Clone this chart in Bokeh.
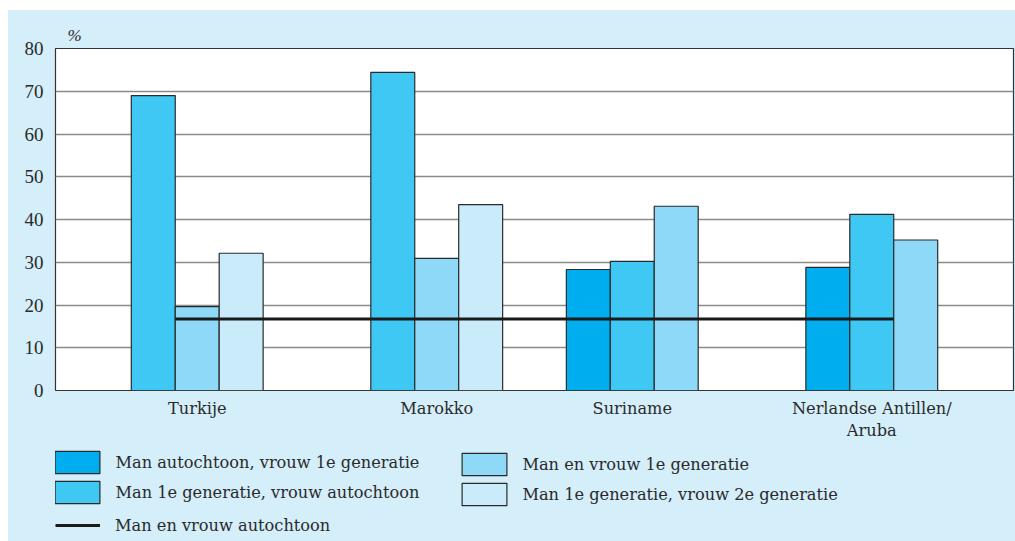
from bokeh.plotting import figure
from bokeh.layouts import column
from bokeh.models import Range1d, Legend, LegendItem, FixedTicker, ColumnDataSource
from bokeh.embed import file_html
from bokeh.resources import INLINE

# ---- data ----
groups = ["Turkije", "Marokko", "Suriname", "Nerlandse Antillen/\nAruba"]
series_names = [
    "Man autochtoon, vrouw 1e generatie",
    "Man 1e generatie, vrouw autochtoon",
    "Man en vrouw 1e generatie",
    "Man 1e generatie, vrouw 2e generatie",
]
man_auto_vrouw_1e = [None, None, 28.3, 28.8]
man_1e_vrouw_auto = [69.0, 74.4, 30.2, 41.2]
man_vrouw_1e = [19.6, 30.9, 43.1, 35.2]
man_1e_vrouw_2e = [32.1, 43.5, None, None]
line_name = "Man en vrouw autochtoon"
man_vrouw_auto = [16.7, 16.7, 16.7, 16.7]
y_ticks = [0, 10, 20, 30, 40, 50, 60, 70, 80]

series_values = [man_auto_vrouw_1e, man_1e_vrouw_auto, man_vrouw_1e, man_1e_vrouw_2e]
colors = ["#00aeef", "#40c8f4", "#8ed8f8", "#c9ebfa"]
BG = "#d4eefa"
TXT = "#2a2a2a"
NUM_FONT = "Liberation Serif"
TXT_FONT = "DejaVu Serif"
TXT_FS = "16.2px"

W = 0.1835  # slot width in group units

p = figure(width=1007, height=435, output_backend="svg", toolbar_location=None,
           x_range=Range1d(0, 4), y_range=Range1d(0, 80),
           min_border_left=47, min_border_right=2, min_border_top=38, min_border_bottom=55)
p.background_fill_color = "white"
p.border_fill_color = BG
p.outline_line_color = "#333333"
p.outline_line_width = 1.2

bar_renderers = []
present = [[] for _ in groups]
for k, (name, vals, col) in enumerate(zip(series_names, series_values, colors)):
    xs, tops = [], []
    for g, v in enumerate(vals):
        if v is None:
            continue
        x = g + 0.5 + (k - 1.5) * W
        xs.append(x)
        tops.append(v)
        present[g].append(x)
    src = ColumnDataSource(dict(x=xs, top=tops))
    r = p.vbar(x="x", top="top", width=W, bottom=0, source=src,
               fill_color=col, line_color=TXT, line_width=1.2)
    bar_renderers.append(r)

lsrc = ColumnDataSource(dict(x=[g + 0.5 for g in range(len(groups))], y=man_vrouw_auto))
rline = p.line(x="x", y="y", source=lsrc, line_color="#1a1a1a", line_width=3)

# axes
tick_pos = [sum(xs) / len(xs) for xs in present]
p.xaxis.ticker = FixedTicker(ticks=tick_pos)
p.xaxis.major_label_overrides = {t: n for t, n in zip(tick_pos, groups)}
p.yaxis.ticker = FixedTicker(ticks=y_ticks)
for ax in (p.xaxis[0], p.yaxis[0]):
    ax.axis_line_color = None
    ax.major_tick_line_color = None
    ax.minor_tick_line_color = None
    ax.major_tick_out = 0
    ax.major_tick_in = 0
    ax.minor_tick_out = 0
    ax.minor_tick_in = 0
    ax.major_label_text_color = TXT
p.yaxis.major_label_text_font = NUM_FONT
p.yaxis.major_label_text_font_size = "19px"
p.xaxis.major_label_text_font = TXT_FONT
p.xaxis.major_label_text_font_size = TXT_FS
p.yaxis.major_label_standoff = 12
p.xaxis.major_label_standoff = 8
p.xgrid.visible = False
p.ygrid.grid_line_color = "#8a8a8a"
p.ygrid.grid_line_width = 1.5

p.title.text = "%"
p.title.text_font = NUM_FONT
p.title.text_font_style = "italic"
p.title.text_font_size = "17px"
p.title.text_color = TXT
p.title.align = "left"
p.title.offset = 12
p.title.standoff = 7

# ---- legend panel ----
q = figure(width=1007, height=96, output_backend="svg", toolbar_location=None,
           x_range=Range1d(0, 1), y_range=Range1d(0, 1),
           x_axis_location=None, y_axis_location=None,
           min_border_left=0, min_border_right=0, min_border_top=0, min_border_bottom=0)
q.background_fill_color = BG
q.border_fill_color = BG
q.outline_line_color = None
q.grid.visible = False

# legend-only renderers (hidden; only their legend swatches are shown)
leg_bars = [q.vbar(x=[0.5], top=[0.5], width=0.1, visible=False,
                   fill_color=c, line_color=TXT, line_width=1.2) for c in colors]
leg_line = q.line(x=[0.2, 0.4], y=[0.5, 0.5], visible=False,
                  line_color="#1a1a1a", line_width=3)

common = dict(orientation="vertical", padding=0, margin=0,
              border_line_alpha=0, background_fill_alpha=0,
              inactive_fill_alpha=0,
              label_text_font=TXT_FONT, label_text_font_size=TXT_FS,
              label_text_color=TXT)
legA = Legend(items=[LegendItem(label=series_names[0], renderers=[leg_bars[0]]),
                     LegendItem(label=series_names[1], renderers=[leg_bars[1]])],
              location=(-5.6, 35), glyph_width=56, glyph_height=28, label_height=28,
              spacing=2, label_standoff=10, **common)
legB = Legend(items=[LegendItem(label=series_names[2], renderers=[leg_bars[2]]),
                     LegendItem(label=series_names[3], renderers=[leg_bars[3]])],
              location=(401.4, 33), glyph_width=56, glyph_height=28, label_height=28,
              spacing=2, label_standoff=10, **common)
legC = Legend(items=[LegendItem(label=line_name, renderers=[leg_line])],
              location=(0, 5), glyph_width=45, glyph_height=22, label_height=22,
              spacing=2, label_standoff=15, **common)
for lg in (legA, legB, legC):
    q.add_layout(lg)

layout = column(p, q, spacing=0)
layout.margin = (10, 0, 0, 8)
layout.styles = {"background-color": BG}

open("out.html", "w").write(file_html(layout, INLINE))
